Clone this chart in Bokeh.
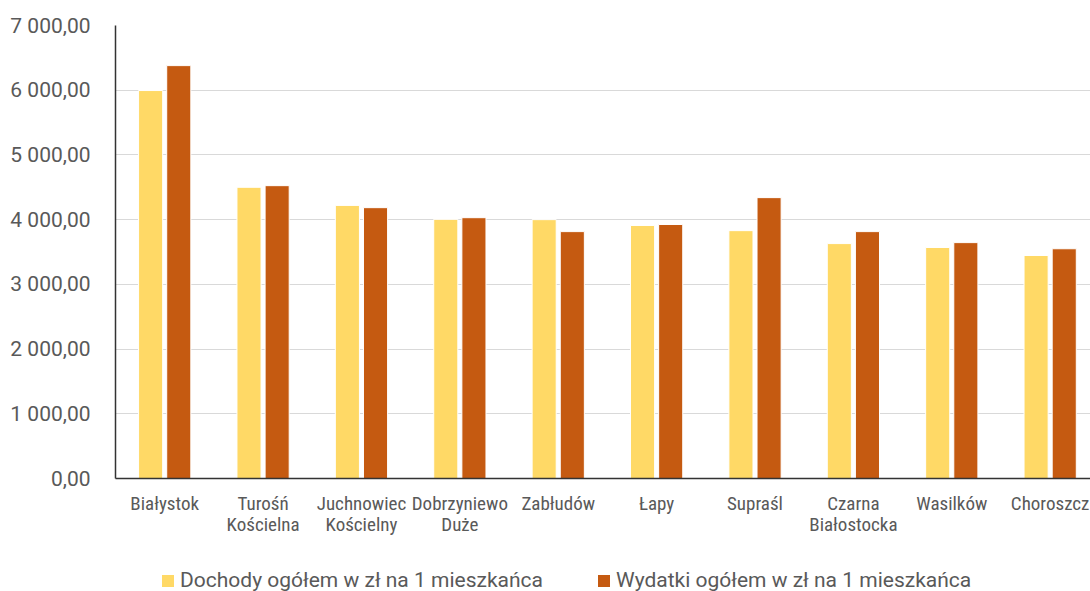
from bokeh.plotting import figure
from bokeh.layouts import column
from bokeh.models import (ColumnDataSource, Range1d, FixedTicker, Legend, LegendItem, LinearAxis)
from bokeh.transform import dodge
from bokeh.embed import file_html
from bokeh.resources import INLINE

gminy = ["Białystok", "Turośń Kościelna", "Juchnowiec Kościelny", "Dobrzyniewo Duże",
         "Zabłudów", "Łapy", "Supraśl", "Czarna Białostocka", "Wasilków", "Choroszcz"]
linia_1 = ["Białystok", "Turośń", "Juchnowiec", "Dobrzyniewo", "Zabłudów", "Łapy",
           "Supraśl", "Czarna", "Wasilków", "Choroszcz"]
linia_2 = [" ", "Kościelna", "Kościelny", "Duże", " ", " ", " ", "Białostocka", " ", " "]
dochody = [5995, 4500, 4220, 4005, 4000, 3910, 3830, 3630, 3570, 3446]
wydatki = [6380, 4525, 4185, 4030, 3815, 3925, 4340, 3815, 3645, 3550]
y_ticks = [0, 1000, 2000, 3000, 4000, 5000, 6000, 7000]
y_labels = ["0,00", "1 000,00", "2 000,00", "3 000,00", "4 000,00", "5 000,00", "6 000,00", "7 000,00"]
seria_1 = "Dochody ogółem w zł na 1 mieszkańca"
seria_2 = "Wydatki ogółem w zł na 1 mieszkańca"

FONT = "Roboto"
FONT_N = "Roboto Condensed, Liberation Sans Narrow, DejaVu Sans Condensed, Roboto"
TXT = "#595959"
C1, C2 = "#FFD966", "#C55A11"

idx = list(range(len(gminy)))
src = ColumnDataSource(dict(i=idx, d=dochody, w=wydatki))

p = figure(width=1090, height=560, x_range=Range1d(-0.5, 9.41), y_range=Range1d(0, 7000),
           output_backend="svg", toolbar_location=None, x_axis_location=None,
           min_border_left=115, min_border_top=25, min_border_bottom=82, min_border_right=0)

r1 = p.vbar(x=dodge("i", -0.143), top="d", width=0.245, source=src,
            fill_color=C1, line_color="white", line_width=1)
r2 = p.vbar(x=dodge("i", 0.143), top="w", width=0.245, source=src,
            fill_color=C2, line_color="white", line_width=1)

p.outline_line_color = None
p.xgrid.grid_line_color = None
p.ygrid.grid_line_color = "#D9D9D9"
p.ygrid.grid_line_width = 1
p.yaxis.ticker = FixedTicker(ticks=y_ticks)
p.yaxis.major_label_overrides = dict(zip(y_ticks, y_labels))

ax1 = LinearAxis(ticker=FixedTicker(ticks=idx), major_label_overrides=dict(zip(idx, linia_1)))
ax2 = LinearAxis(ticker=FixedTicker(ticks=idx), major_label_overrides=dict(zip(idx, linia_2)))
p.add_layout(ax1, "below")
p.add_layout(ax2, "below")

for ax in (ax1, p.yaxis[0], ax2):
    ax.axis_line_color = "#333333"
    ax.axis_line_width = 1.5
    ax.major_tick_line_color = None
    ax.minor_tick_line_color = None
    ax.major_label_text_font = FONT
    ax.major_label_text_color = TXT

ax2.axis_line_color = None
p.yaxis.major_label_text_font_size = "21px"
p.yaxis.major_label_standoff = 19
for ax in (ax1, ax2):
    ax.major_label_text_font = FONT_N
    ax.major_label_text_font_size = "19px"
ax1.major_label_standoff = 7
ax2.major_label_standoff = -11

# legend strip (its renderers use the same data, kept far outside the strip's visible range)
lg = figure(width=1090, height=31, x_range=Range1d(100, 101), y_range=Range1d(100000, 100001),
            output_backend="svg", toolbar_location=None, x_axis_location=None, y_axis_location=None,
            min_border_left=115, min_border_top=0, min_border_bottom=0, min_border_right=0)
lg.outline_line_color = None
lg.grid.visible = False
g1 = lg.vbar(x="i", top="d", width=0.1, source=src, fill_color=C1, line_color=None)
g2 = lg.vbar(x="i", top="w", width=0.1, source=src, fill_color=C2, line_color=None)
legend = Legend(items=[LegendItem(label=seria_1, renderers=[g1]),
                       LegendItem(label=seria_2, renderers=[g2])],
                orientation="horizontal", location=(45, -1),
                label_text_font=FONT, label_text_font_size="21px", label_text_color=TXT,
                glyph_width=15, glyph_height=15, label_standoff=5, spacing=53,
                padding=0, margin=0, border_line_color=None, background_fill_alpha=0)
lg.add_layout(legend, "center")

open("out.html", "w").write(file_html(column(p, lg, spacing=0), INLINE))
